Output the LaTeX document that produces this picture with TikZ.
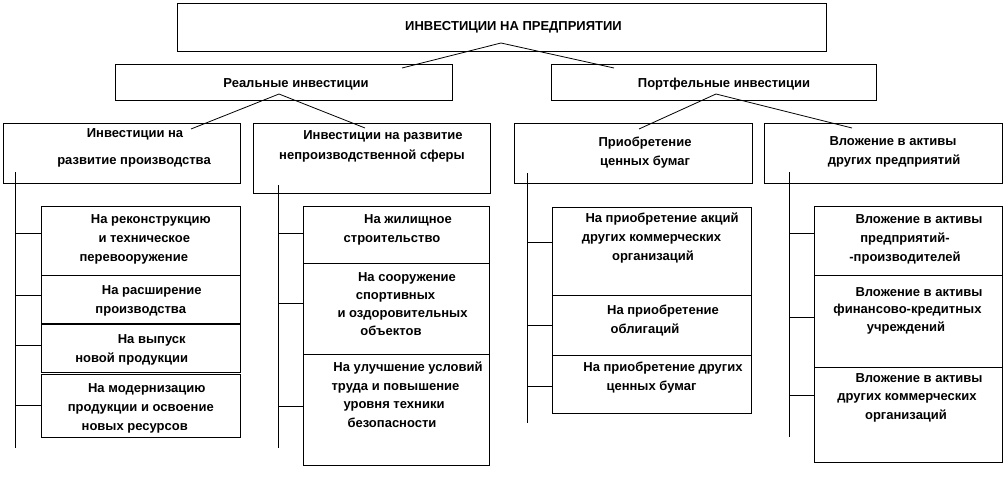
\documentclass[tikz,border=0pt]{standalone}
\usepackage{fontspec}
\setmainfont{Liberation Sans}
\usetikzlibrary{positioning}
\newcommand\mv[2]{\hspace*{#1pt}#2\hspace*{-#1pt}}

\begin{document}
\begin{tikzpicture}[x=1pt,y=-1pt,line width=0.8pt,
 font=\fontsize{13}{19}\selectfont\bfseries,
 blk/.style={draw,anchor=north west,align=center,inner sep=0pt,outer sep=0pt},
 hd/.style 2 args={text height=#1pt,text depth=#2pt},
 colA/.style={blk,minimum width=198.5pt},
 colB/.style={blk,minimum width=186pt},
 colC/.style={blk,minimum width=199pt},
 colD/.style={blk,minimum width=188pt}]
 \useasboundingbox (0,0) rectangle (1004,477);
 % upper levels
 \node[blk,minimum width=649pt,hd={27}{21}] (top) at (177,3) {\mv{12}{ИНВЕСТИЦИИ НА ПРЕДПРИЯТИИ}};
 \node[blk,minimum width=337pt,hd={23}{13}] (real) at (115,64) {\mv{12.5}{Реальные инвестиции}};
 \node[blk,minimum width=325pt,hd={23}{13}] (port) at (551,64) {\mv{10.5}{Портфельные инвестиции}};
 \node[blk,minimum width=237pt,hd={41}{19}] (prod) at (3,123) {\mv{13.5}{Инвестиции на}\\[8pt]\mv{12.5}{развитие производства}};
 \node[blk,minimum width=237pt,hd={36}{34}] (nonprod) at (253,123) {\mv{11.5}{Инвестиции на развитие}\\[1pt]\mv{0.5}{непроизводственной сферы}};
 \node[blk,minimum width=238pt,hd={42}{18}] (sec) at (514,123) {\mv{12}{Приобретение}\\\mv{12}{ценных бумаг}};
 \node[blk,minimum width=238pt,hd={41}{19}] (assets) at (764,123) {\mv{10}{Вложение в активы}\\\mv{11}{других предприятий}};
 % real investments
 \node[colA,hd={55}{14}] (p1) at (41.5,206) {\mv{10}{На реконструкцию}\\\mv{7}{и техническое}\\\mv{-7}{перевооружение}};
 \node[colA,hd={38}{10},below=0pt of p1] (p2) {\mv{11}{На расширение}\\\mv{0}{производства}};
 \node[colA,hd={38}{10},below=1pt of p2] (p3) {\mv{11}{На выпуск}\\\mv{-9}{новой продукции}};
 \node[colA,hd={56}{7},below=2pt of p3] (p4) {\mv{6}{На модернизацию}\\\mv{0}{продукции и освоение}\\\mv{-6}{новых ресурсов}};
 \node[colB,hd={36}{21}] (n1) at (303,206) {\mv{12}{На жилищное}\\\mv{-4}{строительство}};
 \node[colB,hd={72}{19},below=0pt of n1] (n2) {\mv{11}{На сооружение}\\[-1pt]\mv{-1}{спортивных}\\[-1pt]\mv{13}{и оздоровительных}\\[-1pt]\mv{-5}{объектов}};
 \node[colB,hd={73}{38},below=0pt of n2] (n3) {\mv{12}{На улучшение условий}\\[-0.5pt]\mv{-1}{труда и повышение}\\[-0.5pt]\mv{-4}{уровня техники}\\[-0.5pt]\mv{-4}{безопасности}};
 % portfolio investments
 \node[colC,hd={53}{35}] (s1) at (552,207) {\mv{10.5}{На приобретение акций}\\\mv{0}{других коммерческих}\\\mv{1.5}{организаций}};
 \node[colC,hd={38}{22},below=0pt of s1] (s2) {\mv{11.5}{На приобретение}\\\mv{-6.5}{облигаций}};
 \node[colC,hd={35}{23},below=0pt of s2] (s3) {\mv{11.5}{На приобретение других}\\\mv{0}{ценных бумаг}};
 \node[colD,hd={55}{14}] (a1) at (814,206) {\mv{11}{Вложение в активы}\\\mv{-6}{предприятий-}\\\mv{-3}{-производителей}};
 \node[colD,hd={56}{36},below=0pt of a1] (a2) {\mv{11}{Вложение в активы}\\[-1.5pt]\mv{-1}{финансово-кредитных}\\[-1.5pt]\mv{-2}{учреждений}};
 \node[colD,hd={52}{43},below=0pt of a2] (a3) {\mv{11}{Вложение в активы}\\[-0.5pt]\mv{-2}{других коммерческих}\\[-0.5pt]\mv{-2}{организаций}};
 % joints and line ends
 \coordinate (jtop) at (501,43); \coordinate (jreal) at (279,94); \coordinate (jport) at (716,94);
 \coordinate (ereal) at (402,68); \coordinate (eport) at (614,68);
 \coordinate (eprod) at (191,129); \coordinate (enon) at (365,128); \coordinate (esec) at (639,129); \coordinate (eas) at (852,128);
 \coordinate (t1) at (15,172); \coordinate (b1) at (15,448);
 \coordinate (t2) at (278,185); \coordinate (b2) at (278,448);
 \coordinate (t3) at (527,173); \coordinate (b3) at (527,423);
 \coordinate (t4) at (789,172); \coordinate (b4) at (789,437);
 \draw (ereal)--(jtop)--(eport); \draw (eprod)--(jreal)--(enon); \draw (esec)--(jport)--(eas);
 \draw (t1)--(b1); \draw (t2)--(b2); \draw (t3)--(b3); \draw (t4)--(b4);
 \draw ([yshift=7.5pt]p1.west) -- +(-26.5,0); \draw ([yshift=4pt]p2.west) -- +(-26.5,0); \draw ([yshift=3pt]p3.west) -- +(-26.5,0); \draw ([yshift=0.5pt]p4.west) -- +(-26.5,0);
 \draw ([yshift=1.5pt]n1.west) -- +(-25,0); \draw ([yshift=5.5pt]n2.west) -- +(-25,0); \draw ([yshift=3.5pt]n3.west) -- +(-25,0);
 \draw ([yshift=9pt]s1.west) -- +(-25,0); \draw (s2.west) -- +(-25,0); \draw ([yshift=-2pt]s3.west) -- +(-25,0);
 \draw ([yshift=7.5pt]a1.west) -- +(-25,0); \draw ([yshift=4pt]a2.west) -- +(-25,0); \draw ([yshift=19.5pt]a3.west) -- +(-25,0);
\end{tikzpicture}
\end{document}
